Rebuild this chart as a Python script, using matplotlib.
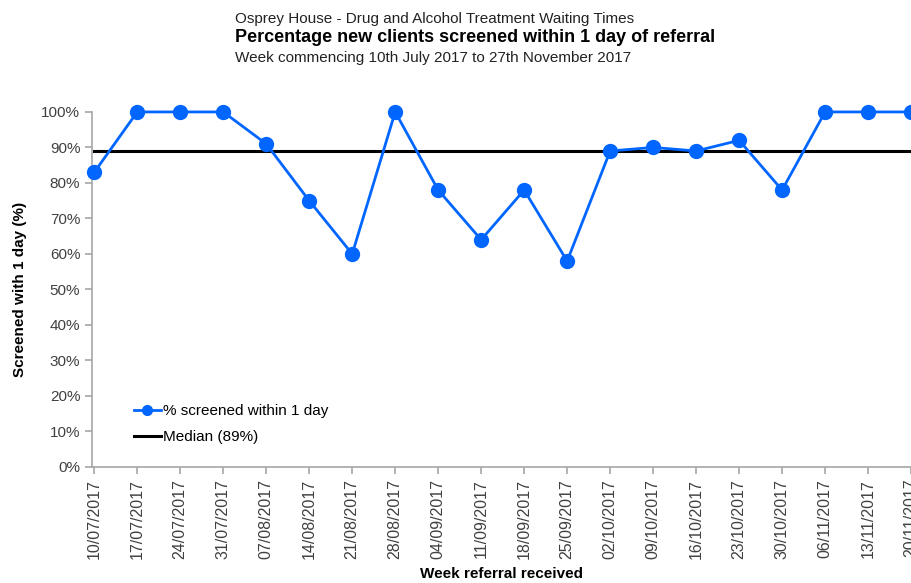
import matplotlib
matplotlib.use("Agg")
import matplotlib.pyplot as plt
from matplotlib.ticker import PercentFormatter

plt.rcParams['font.family'] = ['Liberation Sans', 'DejaVu Sans']

# Data
weeks = ['10/07/2017', '17/07/2017', '24/07/2017', '31/07/2017', '07/08/2017',
         '14/08/2017', '21/08/2017', '28/08/2017', '04/09/2017', '11/09/2017',
         '18/09/2017', '25/09/2017', '02/10/2017', '09/10/2017', '16/10/2017',
         '23/10/2017', '30/10/2017', '06/11/2017', '13/11/2017', '20/11/2017']
screened = [83, 100, 100, 100, 91, 75, 60, 100, 78, 64,
            78, 58, 89, 90, 89, 92, 78, 100, 100, 100]
median_value = 89

x = list(range(len(weeks)))

fig = plt.figure(figsize=(9.12, 5.83), dpi=100)
ax = fig.add_axes([0.101, 0.199, 0.898, 0.609])

ax.plot(x, screened, color='#0066FF', linewidth=2, marker='o', markersize=10,
        label='% screened within 1 day', clip_on=False, zorder=3)
ax.plot(x, [median_value] * len(x), color='black', linewidth=2.2,
        label=f'Median ({median_value}%)', zorder=2)

ax.set_xlim(-0.05, len(x) - 1)
ax.set_ylim(0, 100)
ax.set_yticks(range(0, 101, 10))
ax.yaxis.set_major_formatter(PercentFormatter(decimals=0))
ax.set_xticks(x)
ax.set_xticklabels(weeks, rotation=90)

gray = '#A6A6A6'
for side in ['top', 'right']:
    ax.spines[side].set_visible(False)
for side in ['left', 'bottom']:
    ax.spines[side].set_color(gray)
    ax.spines[side].set_linewidth(1.2)
ax.tick_params(axis='both', colors=gray, labelcolor='#404040', labelsize=11,
               length=5, width=1.2)
ax.tick_params(axis='x', labelsize=11.5)

ax.set_ylabel('Screened with 1 day (%)', fontsize=11, fontweight='bold', labelpad=10)
ax.set_xlabel('Week referral received', fontsize=11, fontweight='bold', labelpad=6)

leg = ax.legend(loc='lower left', bbox_to_anchor=(0.034, 0.025), frameon=False,
                fontsize=11, handlelength=1.8, handletextpad=0.1, labelspacing=0.8,
                markerscale=0.7)

fig.text(0.258, 0.968, 'Osprey House - Drug and Alcohol Treatment Waiting Times',
         fontsize=11, ha='left', va='center', color='#222222')
fig.text(0.258, 0.935, 'Percentage new clients screened within 1 day of referral',
         fontsize=13, fontweight='bold', ha='left', va='center')
fig.text(0.258, 0.901, 'Week commencing 10th July 2017 to 27th November 2017',
         fontsize=11, ha='left', va='center', color='#222222')

fig.savefig('out.png', dpi=100)
